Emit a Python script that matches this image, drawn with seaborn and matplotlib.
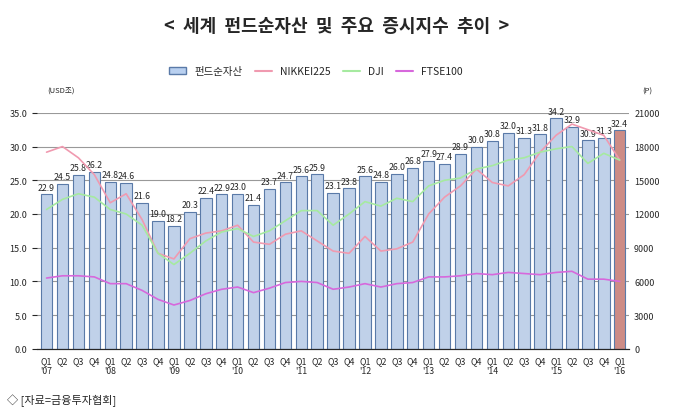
import matplotlib
matplotlib.use("Agg")
import matplotlib.pyplot as plt
import seaborn as sns
import pandas as pd
import numpy as np

sns.set_style("white")
plt.rcParams['font.family'] = ['Noto Sans CJK KR', 'DejaVu Sans']

quarters = [f"Q{q}" for y in range(2007, 2017) for q in range(1, 5)][:37]
years = [f"'{y%100:02d}" for y in range(2007, 2017) for q in range(1, 5)][:37]
fund = [22.9, 24.5, 25.8, 26.2, 24.8, 24.6, 21.6, 19.0, 18.2, 20.3, 22.4, 22.9,
        23.0, 21.4, 23.7, 24.7, 25.6, 25.9, 23.1, 23.8, 25.6, 24.8, 26.0, 26.8,
        27.9, 27.4, 28.9, 30.0, 30.8, 32.0, 31.3, 31.8, 34.2, 32.9, 30.9, 31.3, 32.4]
nikkei = [17500, 18000, 17000, 15500, 13000, 13800, 11500, 8500, 8000, 9800, 10300, 10500,
          11000, 9500, 9300, 10200, 10500, 9600, 8700, 8500, 10000, 8700, 8900, 9500,
          12000, 13500, 14500, 16000, 14800, 14500, 15500, 17500, 19000, 20000, 19500, 19000, 16800]
dji = [12400, 13300, 13800, 13500, 12400, 12000, 11000, 8500, 7500, 8500, 9600, 10400,
       10700, 10000, 10500, 11400, 12300, 12300, 11000, 12000, 13100, 12700, 13400, 13100,
       14500, 15000, 15200, 16000, 16300, 16800, 17000, 17500, 17800, 18000, 16500, 17400, 16800]
ftse = [6300, 6500, 6500, 6400, 5800, 5800, 5200, 4400, 3900, 4300, 4900, 5300,
        5500, 5000, 5400, 5900, 6000, 5900, 5300, 5500, 5800, 5500, 5800, 5900,
        6400, 6400, 6500, 6700, 6600, 6800, 6700, 6600, 6800, 6900, 6200, 6200, 6000]

labels = [f"{q}\n{y}" if q == "Q1" else q for q, y in zip(quarters, years)]
keys = [f"{y}{q}" for q, y in zip(quarters, years)]
df = pd.DataFrame({"key": keys, "fund": fund, "kind": ["a"] * 36 + ["b"]})
x = np.arange(len(fund))

fig = plt.figure(figsize=(6.73, 4.14), dpi=100)
ax = fig.add_axes([0.055, 0.155, 0.88, 0.57])
sns.barplot(data=df, x="key", y="fund", hue="kind", order=keys,
            palette={"a": "#b9d0f0", "b": "#d9827a"},
            edgecolor="#5a7aa8", linewidth=0.8, width=0.72, dodge=False, legend=False, ax=ax)
for xi, v in zip(x, fund):
    ax.text(xi, v + 0.4, f"{v:.1f}", ha="center", va="bottom", fontsize=6.3)
ax.set_ylim(0, 35)
ax.set_yticks(np.arange(0, 35.1, 5))
ax.set_yticklabels([f"{v:.1f}" for v in np.arange(0, 35.1, 5)], fontsize=6.5)
ax.set_xlim(-0.6, 36.6)
ax.set_xticks(x)
ax.set_xticklabels(labels)
ax.tick_params(axis='x', labelsize=6.3, length=3, pad=2)
ax.set_xlabel(""); ax.set_ylabel("")
ax.grid(axis='y', color='#999999', linewidth=0.8)
ax.set_axisbelow(True)
for s in ["top", "right", "left"]:
    ax.spines[s].set_visible(False)

ax2 = ax.twinx()
sns.lineplot(x=x, y=nikkei, color="#f09ab0", linewidth=1.2, ax=ax2)
sns.lineplot(x=x, y=dji, color="#a6eaa0", linewidth=1.2, ax=ax2)
sns.lineplot(x=x, y=ftse, color="#d768dc", linewidth=1.2, ax=ax2)
ax2.set_ylim(0, 21000)
ax2.set_xlim(-0.6, 36.6)
ax2.set_yticks(np.arange(0, 21001, 3000))
ax2.tick_params(axis='y', labelsize=6.5, length=0)
for s in ["top", "right", "left"]:
    ax2.spines[s].set_visible(False)

from matplotlib.patches import Patch
from matplotlib.lines import Line2D
handles = [Patch(facecolor="#b9d0f0", edgecolor="#5a7aa8"),
           Line2D([], [], color="#f09ab0", lw=1.5),
           Line2D([], [], color="#a6eaa0", lw=1.5),
           Line2D([], [], color="#d768dc", lw=1.5)]
fig.legend(handles, ["펀드순자산", "NIKKEI225", "DJI", "FTSE100"], loc="center",
           bbox_to_anchor=(0.47, 0.825), ncol=4, frameon=False, fontsize=7.5,
           handlelength=1.6, columnspacing=1.2)

fig.text(0.5, 0.935, "<  세계  펀드순자산  및  주요  증시지수  추이  >", ha="center",
         va="center", fontsize=13, fontweight="bold")
fig.text(0.07, 0.775, "(USD조)", fontsize=5.5, ha="left")
fig.text(0.955, 0.775, "(P)", fontsize=5.5, ha="left")
fig.text(0.01, 0.025, "◇ [자료=금융투자협회]", fontsize=8, ha="left")

fig.savefig("out.png", dpi=100)
